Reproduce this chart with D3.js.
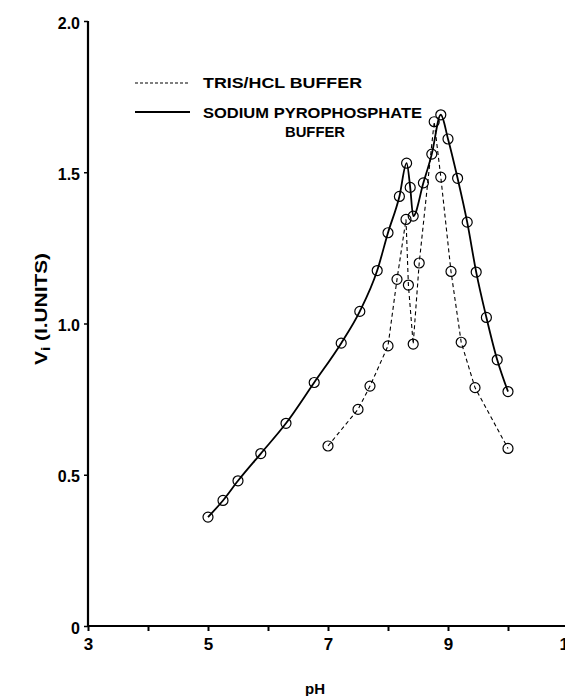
<!DOCTYPE html>
<html><head><meta charset="utf-8">
<script src="https://cdn.jsdelivr.net/npm/d3@7"></script>
<style>html,body{margin:0;padding:0;background:#fff;}svg{display:block;}</style>
</head><body>
<svg id="chart" width="565" height="696"></svg>
<script>
// Sodium pyrophosphate buffer (solid)
const pyroPH = [5.0, 5.25, 5.5, 5.88, 6.3, 6.77, 7.22, 7.53, 7.82, 8.0, 8.19, 8.31, 8.37, 8.42, 8.59, 8.73, 8.88, 9.0, 9.16, 9.32, 9.47, 9.64, 9.82, 10.0];
const pyroV  = [0.36, 0.415, 0.48, 0.57, 0.67, 0.805, 0.935, 1.04, 1.175, 1.30, 1.42, 1.53, 1.45, 1.355, 1.465, 1.56, 1.69, 1.61, 1.48, 1.335, 1.17, 1.02, 0.88, 0.775];
// Tris/HCl buffer (dashed)
const trisPH = [7.0, 7.5, 7.7, 8.0, 8.15, 8.30, 8.34, 8.42, 8.52, 8.77, 8.88, 9.05, 9.22, 9.45, 10.0];
const trisV  = [0.595, 0.716, 0.793, 0.926, 1.146, 1.344, 1.127, 0.932, 1.20, 1.667, 1.484, 1.172, 0.938, 0.788, 0.587];
const xTicks = [3,4,5,6,7,8,9,10,11];
const xLabels = [3,5,7,9,11];
const yTicks = [0, 0.5, 1.0, 1.5, 2.0];
const yLabels = ["0", "0.5", "1.0", "1.5", "2.0"];
const legendLabels = ["TRIS/HCL BUFFER", "SODIUM PYROPHOSPHATE", "BUFFER"];

const svg = d3.select("#chart");
const font = "'Liberation Sans', Arial, sans-serif";
const x = d3.scaleLinear().domain([3, 11]).range([88, 568]);
const y = d3.scaleLinear().domain([0, 2]).range([626, 21]);

// axes
const xAxis = d3.axisBottom(x).tickValues(xTicks).tickSize(5).tickFormat(d => xLabels.includes(d) ? d : "");
const gx = svg.append("g").attr("transform", `translate(0,${y(0)})`).call(xAxis);
gx.select(".domain").remove();
gx.selectAll(".tick line").attr("stroke", "#000").attr("stroke-width", 2);
gx.selectAll(".tick text").attr("font-family", font).attr("font-weight", "bold").attr("font-size", 17).attr("fill", "#000").attr("dy", "0.95em");
svg.append("line").attr("x1", x(3)).attr("x2", 565).attr("y1", y(0)).attr("y2", y(0)).attr("stroke", "#000").attr("stroke-width", 2.2);

const yAxis = d3.axisLeft(y).tickValues(yTicks).tickSize(4).tickPadding(4).tickFormat((d, i) => yLabels[i]);
const gy = svg.append("g").attr("transform", `translate(${x(3)},0)`).call(yAxis);
gy.select(".domain").remove();
gy.selectAll(".tick line").attr("stroke", "#000").attr("stroke-width", 1.5);
gy.selectAll(".tick text").attr("font-family", font).attr("font-weight", "bold").attr("font-size", 16).attr("fill", "#000").attr("dy", "0.45em");
svg.append("line").attr("x1", x(3)).attr("x2", x(3)).attr("y1", y(2)).attr("y2", y(0)).attr("stroke", "#000").attr("stroke-width", 2.2);

// axis titles
svg.append("text").attr("x", 315).attr("y", 694).attr("text-anchor", "middle")
  .attr("font-family", font).attr("font-weight", "bold").attr("font-size", 15).text("pH");
const yt = svg.append("text").attr("transform", "translate(47,309) rotate(-90)").attr("text-anchor", "middle")
  .attr("font-family", font).attr("font-weight", "bold").attr("font-size", 16)
  .attr("textLength", 112).attr("lengthAdjust", "spacingAndGlyphs");
yt.append("tspan").text("V");
yt.append("tspan").attr("font-size", 12).attr("dy", 3).text("i");
yt.append("tspan").attr("dy", -3).text(" (I.UNITS)");

// series
const pyro = pyroPH.map((p, i) => [p, pyroV[i]]);
const tris = trisPH.map((p, i) => [p, trisV[i]]);
const lineSmooth = d3.line().x(d => x(d[0])).y(d => y(d[1])).curve(d3.curveMonotoneX);
const lineStraight = d3.line().x(d => x(d[0])).y(d => y(d[1]));
svg.append("path").attr("d", lineStraight(tris)).attr("fill", "none").attr("stroke", "#000").attr("stroke-width", 1.1).attr("stroke-dasharray", "4,3");
svg.append("path").attr("d", lineSmooth(pyro)).attr("fill", "none").attr("stroke", "#000").attr("stroke-width", 1.8);
svg.append("g").selectAll("circle").data(tris.concat(pyro)).join("circle")
  .attr("cx", d => x(d[0])).attr("cy", d => y(d[1])).attr("r", 5)
  .attr("fill", "none").attr("stroke", "#000").attr("stroke-width", 1.2);

// legend
const lg = svg.append("g");
lg.append("line").attr("x1", 135).attr("x2", 188).attr("y1", 83).attr("y2", 83).attr("stroke", "#000").attr("stroke-width", 1.1).attr("stroke-dasharray", "3,2");
lg.append("line").attr("x1", 135).attr("x2", 190).attr("y1", 112).attr("y2", 112).attr("stroke", "#000").attr("stroke-width", 2);
const lt = [[203, 88, 159], [203, 118, 219], [285, 137, 60]];
lg.selectAll("text").data(legendLabels).join("text")
  .attr("x", (d, i) => lt[i][0]).attr("y", (d, i) => lt[i][1])
  .attr("textLength", (d, i) => lt[i][2]).attr("lengthAdjust", "spacingAndGlyphs")
  .attr("font-family", font).attr("font-weight", "bold").attr("font-size", 15).text(d => d);
</script>
</body></html>
